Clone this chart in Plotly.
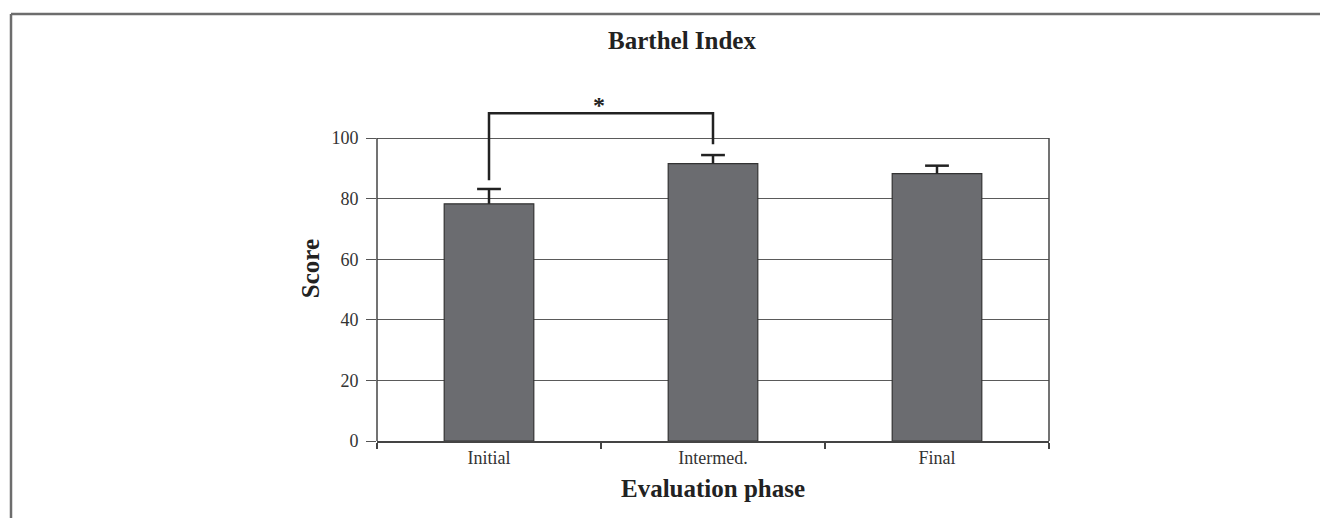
import plotly.graph_objects as go

categories = ["Initial", "Intermed.", "Final"]
scores = [78.3, 91.6, 88.3]
errors = [4.9, 2.8, 2.6]
y_ticks = [0, 20, 40, 60, 80, 100]

# significance bracket between Initial and Intermed.
bracket_x = ["Initial", "Initial", "Intermed.", "Intermed."]
bracket_y = [86.1, 108.2, 108.2, 98.0]
star_x = 0.49
star_y = 111.0

SERIF = "Liberation Serif"

# plot-area geometry in page pixels (page is offset 8px by body margin)
W, H = 1328, 518
L, R, T, B = 369, 1041, 88, 433
Y_TOP = 113.9

def px_x(p):
    return (p - L) / (R - L)

def px_y(p):
    return (B - p) / (B - T)

fig = go.Figure()
fig.add_trace(go.Bar(
    x=categories, y=scores,
    marker=dict(color="#6b6c70", line=dict(color="#333333", width=1.2)),
    # upper error stems only; caps added below as markers
    error_y=dict(type="data", array=errors, visible=True, symmetric=False,
                 arrayminus=[0] * len(errors), color="#222222", thickness=2.5, width=0),
    width=0.4,
    showlegend=False, hoverinfo="skip",
))
# caps at the top of each error bar
fig.add_trace(go.Scatter(
    x=categories, y=[s + e for s, e in zip(scores, errors)], mode="markers",
    marker=dict(symbol="line-ew", size=17, line=dict(color="#222222", width=2.5)),
    showlegend=False, hoverinfo="skip",
))
fig.add_trace(go.Scatter(
    x=bracket_x, y=bracket_y, mode="lines",
    line=dict(color="#222222", width=2.5),
    showlegend=False, hoverinfo="skip",
))

fig.add_annotation(x=star_x, y=star_y, xref="x", yref="y", text="<b>*</b>",
                   showarrow=False, font=dict(family=SERIF, size=24, color="#222222"),
                   yanchor="middle")

fig.update_layout(
    width=W, height=H,
    margin=dict(l=L, r=W - R, t=T, b=H - B),
    paper_bgcolor="white", plot_bgcolor="white",
    title=dict(text="<b>Barthel Index</b>", x=674 / W, xanchor="center", xref="container",
               y=1 - 32 / H, yanchor="middle", yref="container",
               font=dict(family=SERIF, size=25, color="#222222")),
    font=dict(family=SERIF, color="#333333"),
    xaxis=dict(
        type="category", range=[-0.5, 2.5],
        categoryorder="array", categoryarray=categories,
        showline=True, linecolor="#444444", linewidth=1.5, mirror=False,
        ticks="outside", tickson="boundaries", ticklen=6, tickcolor="#444444", tickwidth=1.5,
        tickfont=dict(family=SERIF, size=18, color="#333333"),
        showgrid=False,
        title=dict(text="<b>Evaluation phase</b>", standoff=12,
                   font=dict(family=SERIF, size=25, color="#222222")),
    ),
    yaxis=dict(
        range=[0, Y_TOP], tickvals=y_ticks,
        showline=False,
        ticks="outside", ticklen=10, tickcolor="#555555", tickwidth=1.3,
        ticklabelstandoff=4,
        showgrid=True, gridcolor="#5a5a5a", gridwidth=1.3,
        zeroline=False,
        tickfont=dict(family=SERIF, size=18, color="#333333"),
        title=dict(text="<b>Score</b>", standoff=4,
                   font=dict(family=SERIF, size=25, color="#222222")),
    ),
    shapes=[
        # y-axis line and right border of the plot frame (0 to 100)
        dict(type="line", xref="paper", yref="y", x0=0, x1=0, y0=0, y1=100,
             line=dict(color="#444444", width=1.5)),
        dict(type="line", xref="paper", yref="y", x0=1, x1=1, y0=0, y1=100,
             line=dict(color="#444444", width=1.5)),
        # outer figure frame
        dict(type="line", xref="paper", yref="paper",
             x0=px_x(3), x1=px_x(W + 2), y0=px_y(6), y1=px_y(6),
             line=dict(color="#6d6d6d", width=2.5)),
        dict(type="line", xref="paper", yref="paper",
             x0=px_x(3), x1=px_x(3), y0=px_y(6), y1=px_y(H + 2),
             line=dict(color="#6d6d6d", width=2.5)),
    ],
)

fig.write_html("out.html")
